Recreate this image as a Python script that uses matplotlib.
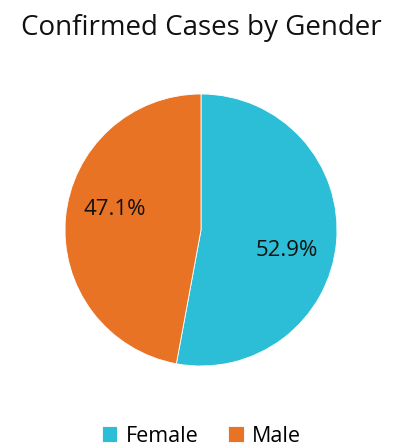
import numpy as np
import matplotlib.pyplot as plt

genders = ["Female", "Male"]
shares = [52.9, 47.1]
colors = ["#2BBED6", "#E97325"]

plt.rcParams['font.family'] = ['Open Sans', 'DejaVu Sans']

fig = plt.figure(figsize=(4.03, 4.47), dpi=100)
W, H = 403, 447
cx, cy, r = 201, 230, 136
ax = fig.add_axes([(cx - r) / W, (H - cy - r) / H, 2 * r / W, 2 * r / H])

wedges, texts, autotexts = ax.pie(shares, colors=colors, startangle=90, counterclock=False,
                                  autopct='%1.1f%%', pctdistance=0.64,
                                  wedgeprops=dict(linewidth=0.6, edgecolor='white'),
                                  textprops=dict(fontsize=16, color='#111111'))
# labels sit a bit clockwise of the slice middle in the original
for w, t in zip(wedges, autotexts):
    ang = np.deg2rad((w.theta1 + w.theta2) / 2 - 8)
    t.set_position((0.65 * np.cos(ang), 0.65 * np.sin(ang)))

ax.set_aspect('equal')
ax.set_xlim(-1, 1)
ax.set_ylim(-1, 1)

fig.text(0.5, 1 - 28 / H, "Confirmed Cases by Gender", ha='center', va='center',
         fontsize=20, color='#111111')

fig.legend(wedges, genders, loc='center', bbox_to_anchor=(0.5, 1 - 436 / H), ncol=2,
           frameon=False, fontsize=15.5, handlelength=0.7, handleheight=0.7,
           handletextpad=0.4, columnspacing=1.4)

fig.savefig("out.png", dpi=100)
